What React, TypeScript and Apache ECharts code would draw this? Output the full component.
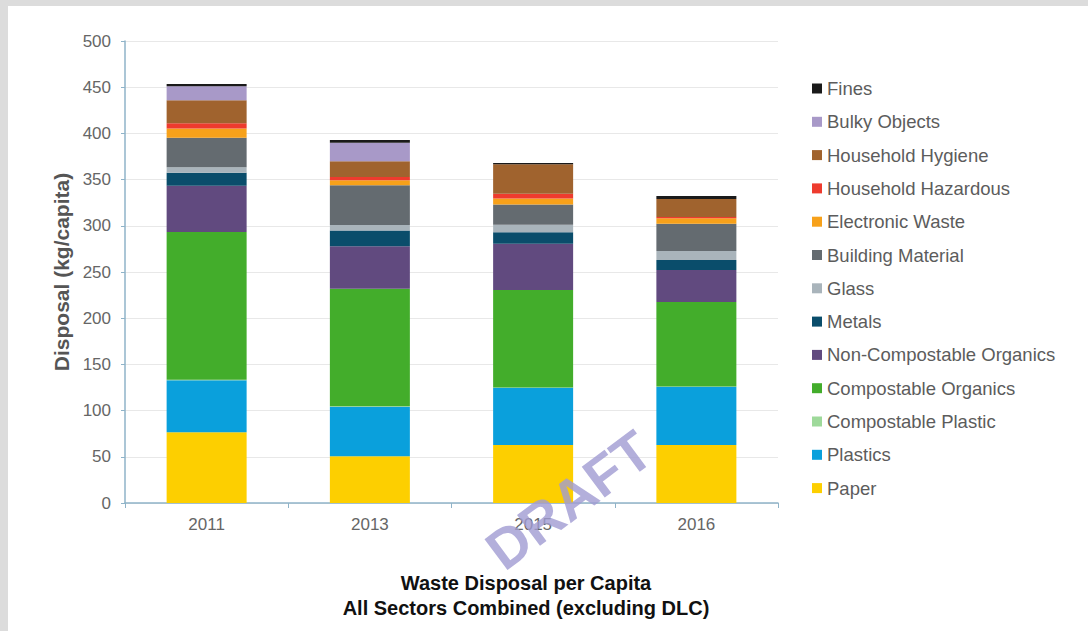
import React, { useEffect, useRef } from "react";
import * as echarts from "echarts";

const years = ["2011", "2013", "2015", "2016"];
const yTicks = [0, 50, 100, 150, 200, 250, 300, 350, 400, 450, 500];

const paper = [76.5, 50.7, 62.9, 62.9];
const plastics = [56.4, 53.6, 61.7, 62.8];
const compostablePlastic = [0.5, 0.5, 0.5, 0.5];
const compostableOrganics = [160, 127, 105.5, 91.3];
const nonCompostableOrganics = [50, 46, 50, 34.6];
const metals = [14, 17, 12.5, 11];
const glass = [6, 6, 8, 9.6];
const buildingMaterial = [32, 43, 22, 29.6];
const electronicWaste = [10, 5.5, 6.5, 6];
const householdHazardous = [5.5, 3.5, 5, 1.2];
const householdHygiene = [25, 17, 32, 19.6];
const bulkyObjects = [15, 20, 0, 0];
const fines = [2.5, 3, 1.5, 3.1];

const seriesDefs = [
  { name: "Paper", data: paper, color: "#fdcf00" },
  { name: "Plastics", data: plastics, color: "#0aa0dc" },
  { name: "Compostable Plastic", data: compostablePlastic, color: "#9ed99a" },
  { name: "Compostable Organics", data: compostableOrganics, color: "#43ad2b" },
  { name: "Non-Compostable Organics", data: nonCompostableOrganics, color: "#614a7f" },
  { name: "Metals", data: metals, color: "#0a4d6b" },
  { name: "Glass", data: glass, color: "#a9b4bb" },
  { name: "Building Material", data: buildingMaterial, color: "#646b70" },
  { name: "Electronic Waste", data: electronicWaste, color: "#f7a11a" },
  { name: "Household Hazardous", data: householdHazardous, color: "#ee3b2e" },
  { name: "Household Hygiene", data: householdHygiene, color: "#a0632e" },
  { name: "Bulky Objects", data: bulkyObjects, color: "#a899c8" },
  { name: "Fines", data: fines, color: "#1a1a1a" },
];

const FONT = "'Liberation Sans', Arial, sans-serif";

export default function App() {
  const ref = useRef<HTMLDivElement>(null);

  useEffect(() => {
    document.body.style.margin = "0";
    if (!ref.current) return;
    const chart = echarts.init(ref.current, undefined, { renderer: "svg" });
    chart.setOption({
      animation: false,
      backgroundColor: "#ffffff",
      grid: { left: 117, top: 35, right: 310, bottom: 128 },
      legend: {
        orient: "vertical",
        left: 804,
        top: 73,
        padding: 0,
        itemWidth: 10,
        itemHeight: 10,
        itemGap: 14.3,
        icon: "rect",
        data: seriesDefs.map((s) => s.name).reverse(),
        textStyle: { color: "#5c5c5c", fontSize: 18.5, fontFamily: FONT },
      },
      xAxis: {
        type: "category",
        data: years,
        axisLine: { lineStyle: { color: "#8fb3c8", width: 1.5 } },
        axisTick: { show: true, length: 5, lineStyle: { color: "#8fb3c8" } },
        axisLabel: { color: "#666666", fontSize: 17, fontFamily: FONT, margin: 13 },
      },
      yAxis: {
        type: "value",
        min: 0,
        max: 500,
        interval: 50,
        name: "Disposal (kg/capita)",
        nameLocation: "middle",
        nameGap: 52,
        nameTextStyle: { color: "#555555", fontSize: 21, fontWeight: "bold", fontFamily: FONT },
        axisLine: { show: true, lineStyle: { color: "#8fb3c8", width: 1.5 } },
        axisTick: { show: true, length: 4, lineStyle: { color: "#8fb3c8" } },
        axisLabel: { color: "#666666", fontSize: 17, fontFamily: FONT, margin: 14 },
        splitLine: { lineStyle: { color: "#e8e8e8" } },
      },
      series: seriesDefs.map((s) => ({
        name: s.name,
        type: "bar",
        stack: "total",
        data: s.data,
        barWidth: 80,
        itemStyle: { color: s.color },
      })),
      graphic: [
        {
          type: "text",
          x: 518,
          y: 589,
          style: {
            text: "Waste Disposal per Capita\nAll Sectors Combined (excluding DLC)",
            fill: "#111111",
            font: "bold 20px " + FONT,
            textAlign: "center",
            textVerticalAlign: "middle",
            lineHeight: 25,
          },
        },
        {
          type: "text",
          x: 561,
          y: 494,
          rotation: 0.64,
          z: 100,
          style: {
            text: "DRAFT",
            fill: "rgba(160,155,210,0.8)",
            font: "bold 56px " + FONT,
            textAlign: "center",
            textVerticalAlign: "middle",
          },
        },
      ],
    });
    return () => chart.dispose();
  }, []);

  return (
    <div style={{ position: "relative", width: 1088, height: 631, background: "#dcdcdc", overflow: "hidden" }}>
      <div ref={ref} style={{ position: "absolute", left: 8, top: 6, width: 1080, height: 625 }} />
    </div>
  );
}
